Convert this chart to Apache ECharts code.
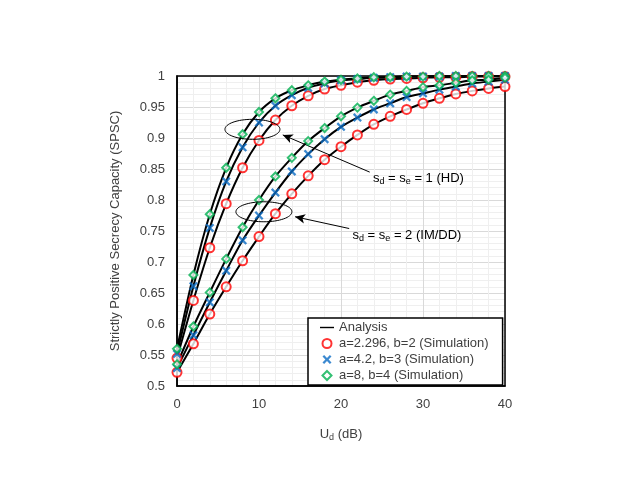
<!DOCTYPE html>
<html>
<head>
<meta charset="utf-8">
<script src="https://cdn.jsdelivr.net/npm/echarts@6/dist/echarts.min.js"></script>
<style>
  html, body { margin: 0; padding: 0; background: #fff; }
  #chart { width: 623px; height: 481px; }
</style>
</head>
<body>
<div id="chart"></div>
<script>
// x: U_d (dB)
const ud = [0, 2, 4, 6, 8, 10, 12, 14, 16, 18, 20, 22, 24, 26, 28, 30, 32, 34, 36, 38, 40];

// s_d = s_e = 1 (HD)
const hdA = [0.545, 0.638, 0.723, 0.794, 0.852, 0.896, 0.929, 0.952, 0.968, 0.979, 0.985, 0.990, 0.993, 0.995, 0.996, 0.997, 0.998, 0.998, 0.999, 0.999, 0.999];
const hdB = [0.552, 0.661, 0.755, 0.830, 0.885, 0.925, 0.952, 0.969, 0.981, 0.988, 0.993, 0.995, 0.997, 0.998, 0.999, 0.999, 0.999, 1.000, 1.000, 1.000, 1.000];
const hdC = [0.560, 0.679, 0.777, 0.852, 0.906, 0.942, 0.964, 0.977, 0.985, 0.991, 0.994, 0.996, 0.998, 0.998, 0.999, 0.999, 1.000, 1.000, 1.000, 1.000, 1.000];

// s_d = s_e = 2 (IM/DD)
const imA = [0.522, 0.568, 0.616, 0.660, 0.702, 0.741, 0.778, 0.810, 0.839, 0.865, 0.886, 0.905, 0.922, 0.935, 0.946, 0.956, 0.964, 0.971, 0.976, 0.980, 0.983];
const imB = [0.529, 0.582, 0.635, 0.686, 0.735, 0.775, 0.812, 0.846, 0.874, 0.898, 0.918, 0.933, 0.946, 0.956, 0.966, 0.972, 0.978, 0.983, 0.988, 0.991, 0.994];
const imC = [0.535, 0.596, 0.651, 0.705, 0.756, 0.800, 0.838, 0.868, 0.895, 0.916, 0.935, 0.949, 0.960, 0.970, 0.976, 0.982, 0.985, 0.989, 0.993, 0.994, 0.997];

const simNames = ['a=2.296, b=2 (Simulation)', 'a=4.2, b=3 (Simulation)', 'a=8, b=4 (Simulation)'];
const xTicks = [0, 10, 20, 30, 40];
const yTicks = [0.5, 0.55, 0.6, 0.65, 0.7, 0.75, 0.8, 0.85, 0.9, 0.95, 1];

const font = 'Liberation Sans, Arial, sans-serif';
const txt = '#404040';
const xMark = 'path://M0,1.8 L1.8,0 L5,3.2 L8.2,0 L10,1.8 L6.8,5 L10,8.2 L8.2,10 L5,6.8 L1.8,10 L0,8.2 L3.2,5 Z';
const diamondMark = 'path://M5,0 L10,5 L5,10 L0,5 Z';

const pts = arr => ud.map((x, i) => [x, arr[i]]);

// 分析曲线 黑线
function lineSeries (arr, extra) {
  return Object.assign({
    name: 'Analysis',
    type: 'line',
    data: pts(arr),
    smooth: 0.3,
    symbol: 'none',
    lineStyle: { color: '#000', width: 2 },
    itemStyle: { color: '#000' },
    z: 2,
    silent: true
  }, extra || {})
}

// 仿真点
const markerStyles = [
  { symbol: 'circle', symbolSize: 9, itemStyle: { color: '#fff', borderColor: '#ff0000', borderWidth: 2 } },
  { symbol: xMark, symbolSize: 9, itemStyle: { color: '#0a6cc4', borderWidth: 0 } },
  { symbol: diamondMark, symbolSize: 8, itemStyle: { color: '#fff', borderColor: '#00b050', borderWidth: 2 } }
];

function simSeries (arr, k) {
  return Object.assign({
    name: simNames[k],
    type: 'scatter',
    data: pts(arr),
    z: 5,
    silent: true
  }, markerStyles[k])
}

const arrowLine = {
  silent: true,
  symbol: ['none', 'arrow'],
  symbolSize: [7, 10],
  label: { show: false },
  lineStyle: { color: '#000', width: 1, type: 'solid' },
  data: [
    [{ coord: [23.5, 0.845] }, { coord: [12.9, 0.905] }],
    [{ coord: [21.0, 0.754] }, { coord: [14.4, 0.773] }]
  ]
};

const chart = echarts.init(document.getElementById('chart'));

chart.setOption({
  animation: false,
  textStyle: { fontFamily: font },
  grid: { left: 177, top: 76, width: 328, height: 310 },
  legend: {
    orient: 'vertical',
    left: 308, top: 318,
    backgroundColor: '#fff',
    borderColor: '#000', borderWidth: 1.5,
    padding: [3, 14, 3, 12],
    itemGap: 3,
    itemWidth: 14, itemHeight: 9,
    symbolKeepAspect: true,
    textStyle: { fontFamily: font, fontSize: 13, color: txt },
    data: [
      { name: 'Analysis', icon: 'path://M0,0 L20,0 L20,2 L0,2 Z', itemStyle: { color: '#000' } },
      simNames[0], simNames[1], simNames[2]
    ]
  },
  xAxis: {
    type: 'value',
    min: xTicks[0], max: xTicks[xTicks.length - 1], interval: 10,
    axisLine: { lineStyle: { color: '#000', width: 1.5 } },
    axisTick: { show: false },
    axisLabel: { color: txt, fontSize: 13, margin: 12 },
    splitLine: { show: true, lineStyle: { color: '#d9d9d9', width: 1 } },
    minorTick: { show: false, splitNumber: 5 },
    minorSplitLine: { show: true, lineStyle: { color: '#efefef', width: 1 } },
    name: '{m|U}{s|d}{m| (dB)}',
    nameLocation: 'middle',
    nameGap: 40,
    nameTextStyle: {
      rich: {
        m: { fontFamily: font, fontSize: 13, color: txt },
        s: { fontFamily: font, fontSize: 9, color: txt, padding: [7, 0, 0, 0] }
      }
    }
  },
  yAxis: {
    type: 'value',
    min: yTicks[0], max: yTicks[yTicks.length - 1], interval: 0.05,
    axisLine: { show: true, lineStyle: { color: '#000', width: 1.5 } },
    axisTick: { show: false },
    axisLabel: {
      color: txt, fontSize: 13, margin: 12,
      formatter: v => String(+v.toFixed(2))
    },
    splitLine: { show: true, lineStyle: { color: '#d9d9d9', width: 1 } },
    minorTick: { show: false, splitNumber: 5 },
    minorSplitLine: { show: true, lineStyle: { color: '#efefef', width: 1 } },
    name: 'Strictly Positive Secrecy Capacity (SPSC)',
    nameLocation: 'middle',
    nameGap: 55,
    nameTextStyle: { fontFamily: font, fontSize: 13, color: txt }
  },
  series: [
    lineSeries(hdA, { markLine: arrowLine }),
    lineSeries(hdB),
    lineSeries(hdC),
    lineSeries(imA),
    lineSeries(imB),
    lineSeries(imC),
    simSeries(hdA, 0),
    simSeries(hdB, 1),
    simSeries(hdC, 2),
    simSeries(imA, 0),
    simSeries(imB, 1),
    simSeries(imC, 2)
  ]
});

// 边框 椭圆 标注文字
const toPx = p => chart.convertToPixel({ gridIndex: 0 }, p);
const c0 = toPx([xTicks[0], yTicks[0]]);
const c1 = toPx([xTicks[xTicks.length - 1], yTicks[yTicks.length - 1]]);
const e1 = toPx([9.2, 0.914]);
const e2 = toPx([10.6, 0.781]);
const t1 = toPx([23.9, 0.835]);
const t2 = toPx([21.4, 0.743]);

const subRich = {
  m: { fontFamily: font, fontSize: 13, fill: '#000' },
  s: { fontFamily: font, fontSize: 9, fill: '#000', padding: [7, 0, 0, 0] }
};

chart.setOption({
  graphic: [
    { type: 'rect', z: 3, silent: true, shape: { x: c0[0], y: c1[1], width: c1[0] - c0[0], height: c0[1] - c1[1] }, style: { fill: 'none', stroke: '#000', lineWidth: 1.5 } },
    { type: 'ellipse', z: 10, shape: { cx: e1[0], cy: e1[1], rx: 27.5, ry: 10 }, style: { fill: 'none', stroke: '#000', lineWidth: 1 } },
    { type: 'ellipse', z: 10, shape: { cx: e2[0], cy: e2[1], rx: 28, ry: 10 }, style: { fill: 'none', stroke: '#000', lineWidth: 1 } },
    { type: 'text', z: 10, x: t1[0], y: t1[1], style: { text: '{m|s}{s|d}{m| = s}{s|e}{m| = 1 (HD)}', rich: subRich, verticalAlign: 'middle' } },
    { type: 'text', z: 10, x: t2[0], y: t2[1], style: { text: '{m|s}{s|d}{m| = s}{s|e}{m| = 2 (IM/DD)}', rich: subRich, verticalAlign: 'middle' } }
  ]
});
</script>
</body>
</html>
